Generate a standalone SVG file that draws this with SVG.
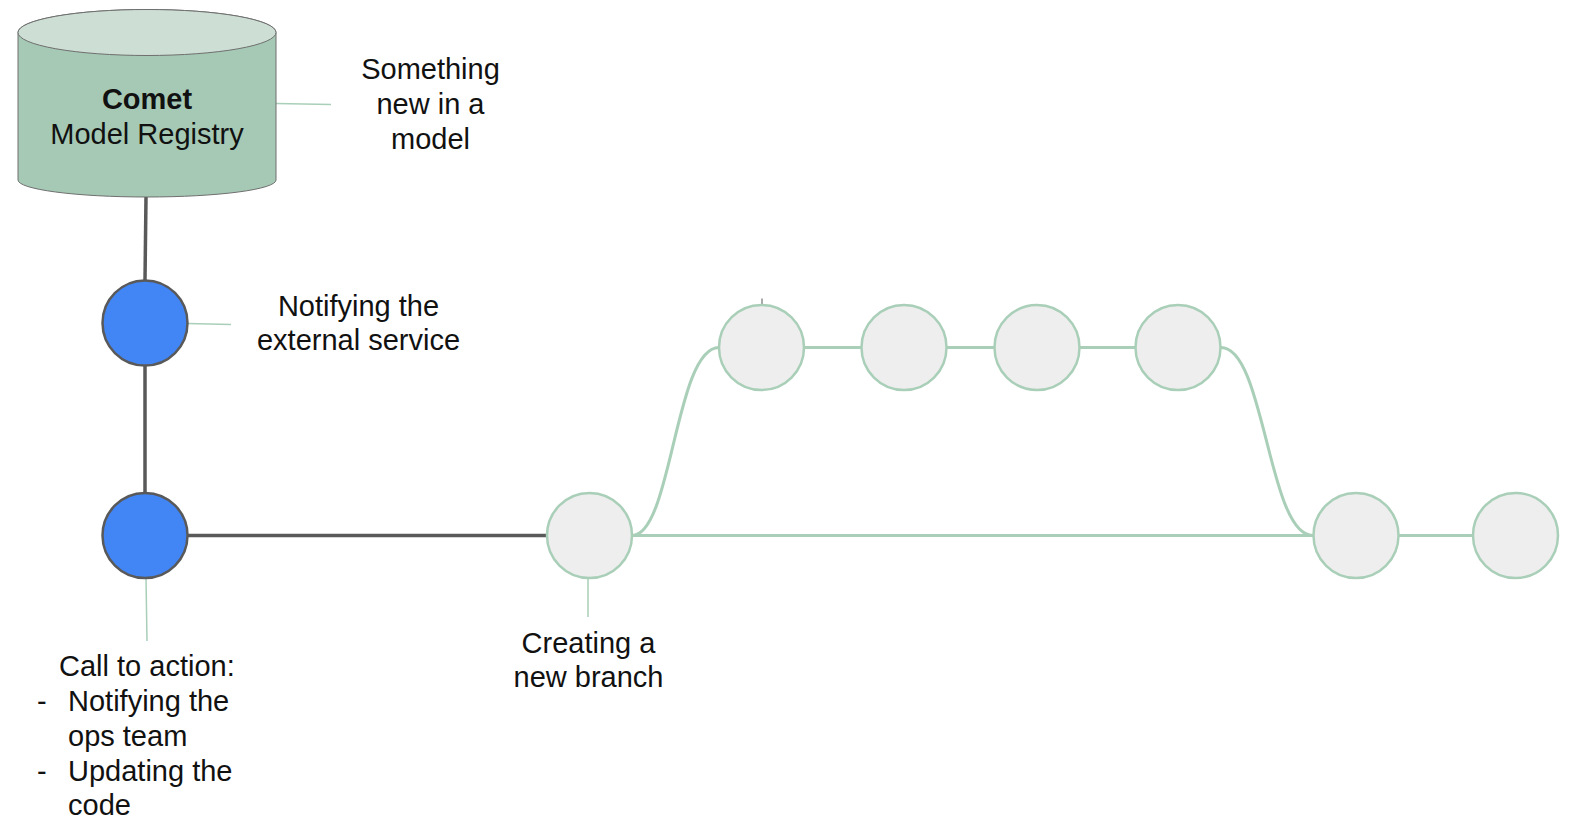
<svg xmlns="http://www.w3.org/2000/svg" width="1575" height="833" viewBox="0 0 1575 833">
<style>
text{font-family:"Liberation Sans",Arial,sans-serif;font-size:29px;fill:#111}
.c{text-anchor:middle}
.dark{stroke:#595959;stroke-width:3.5;fill:none}
.green{stroke:#a9cfb8;stroke-width:3;fill:none}
.lead{stroke:#a9cfb8;stroke-width:1.5;fill:none}
.blue{fill:#4285f4;stroke:#595959;stroke-width:2.5}
.commit{fill:#eeeeee;stroke:#a9cfb8;stroke-width:2.5}
</style>
<rect width="1575" height="833" fill="#fff"/>
<g id="connectors">
<line class="dark" x1="146" y1="197" x2="145" y2="280"/>
<line class="dark" x1="145" y1="366" x2="145" y2="492"/>
<line class="dark" x1="188" y1="535.5" x2="546" y2="535.5"/>
<line class="lead" x1="276" y1="103.5" x2="331" y2="104.5"/>
<line class="lead" x1="187" y1="323.5" x2="231" y2="324.5"/>
<line class="lead" x1="146" y1="578" x2="147" y2="641"/>
<line class="lead" x1="588" y1="578" x2="588" y2="617"/>
<line x1="762" y1="298.5" x2="762" y2="304" stroke="#555" stroke-width="1"/>
<line class="green" x1="632" y1="535.5" x2="1313" y2="535.5"/>
<path class="green" d="M632,535.5 C672,535.5 675,347.5 719,347.5"/>
<path class="green" d="M1221,347.5 C1265,347.5 1268,535.5 1313,535.5"/>
<line class="green" x1="804" y1="347.5" x2="861" y2="347.5"/>
<line class="green" x1="947" y1="347.5" x2="994" y2="347.5"/>
<line class="green" x1="1080" y1="347.5" x2="1135" y2="347.5"/>
<line class="green" x1="1399" y1="535.5" x2="1473" y2="535.5"/>
</g>
<g id="registry">
<path d="M18,32.5 A129,23 0 0 1 276,32.5 V180 A129,17 0 0 1 18,180 Z" fill="#a6c9b5" stroke="#6f6f6f" stroke-width="1"/>
<ellipse cx="147" cy="32.5" rx="129" ry="23" fill="#cddfd4" stroke="#6f6f6f" stroke-width="1"/>
<text class="c" x="147" y="109" font-weight="bold" font-size="28">Comet</text>
<text class="c" x="147" y="144">Model Registry</text>
</g>
<g id="label-something">
<text class="c" x="430.5" y="79">Something</text>
<text class="c" x="430.5" y="114">new in a</text>
<text class="c" x="430.5" y="149">model</text>
</g>
<g id="notify-service">
<circle class="blue" cx="145" cy="323" r="42.5"/>
</g>
<g id="label-notify">
<text class="c" x="358.5" y="316">Notifying the</text>
<text class="c" x="358.5" y="350">external service</text>
</g>
<g id="call-to-action">
<circle class="blue" cx="145" cy="535.5" r="42.5"/>
</g>
<g id="label-call">
<text x="59" y="676">Call to action:</text>
<text x="37" y="711">-</text>
<text x="68" y="711">Notifying the</text>
<text x="68" y="746">ops team</text>
<text x="37" y="781">-</text>
<text x="68" y="781">Updating the</text>
<text x="68" y="815">code</text>
</g>
<g id="branch-start">
<circle class="commit" cx="589.5" cy="535.5" r="42.5"/>
</g>
<g id="label-branch">
<text class="c" x="588.5" y="653">Creating a</text>
<text class="c" x="588.5" y="687">new branch</text>
</g>
<g id="commit-1"><circle class="commit" cx="761.5" cy="347.5" r="42.5"/></g>
<g id="commit-2"><circle class="commit" cx="904" cy="347.5" r="42.5"/></g>
<g id="commit-3"><circle class="commit" cx="1037" cy="347.5" r="42.5"/></g>
<g id="commit-4"><circle class="commit" cx="1178" cy="347.5" r="42.5"/></g>
<g id="merge"><circle class="commit" cx="1356" cy="535.5" r="42.5"/></g>
<g id="commit-last"><circle class="commit" cx="1515.5" cy="535.5" r="42.5"/></g>
</svg>
